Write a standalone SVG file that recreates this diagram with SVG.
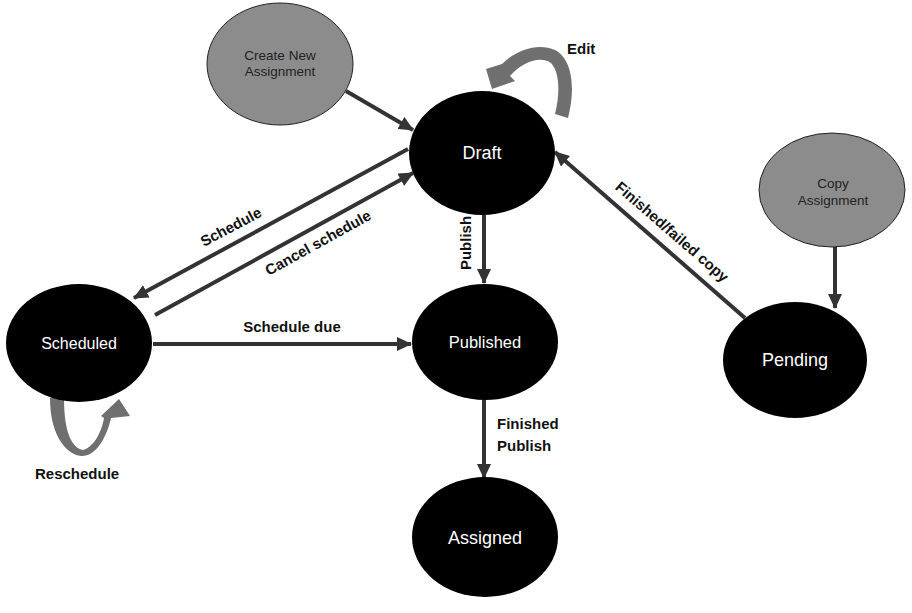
<svg xmlns="http://www.w3.org/2000/svg" width="912" height="613" viewBox="0 0 912 613">
<defs>
<marker id="ah" markerUnits="userSpaceOnUse" markerWidth="16" markerHeight="14" refX="14" refY="7" orient="auto">
<path d="M0,0 L15,7 L0,14 Z" fill="#333"/>
</marker>
<style>
.st{fill:#000;}
.src{fill:#8c8c8c;stroke:#222;stroke-width:1;}
.nt{font-family:"Liberation Sans",Arial,sans-serif;fill:#fff;text-anchor:middle;}
.st2{font-family:"Liberation Sans",Arial,sans-serif;fill:#222;text-anchor:middle;font-size:13.5px;}
.lbl{font-family:"Liberation Sans",Arial,sans-serif;font-weight:bold;font-size:15px;fill:#111;}
.c{stroke:#333;stroke-width:4;fill:none;marker-end:url(#ah);}
.cn{stroke:#333;stroke-width:4;fill:none;}
.loop{fill:#6f6f6f;}
</style>
</defs>
<rect width="912" height="613" fill="#fff"/>
<g id="connectors">
<line class="c" x1="346" y1="91" x2="413" y2="130"/>
<line class="c" x1="408" y1="149" x2="134" y2="298"/>
<line class="c" x1="155" y1="315" x2="413" y2="173"/>
<line class="c" x1="153" y1="344" x2="411" y2="344"/>
<line class="c" x1="484" y1="215" x2="484" y2="283"/>
<line class="c" x1="484" y1="400" x2="484" y2="478"/>
<line class="c" x1="835" y1="247" x2="835" y2="308"/>
<line class="c" x1="745" y1="318" x2="555" y2="152"/>
<path class="loop" d="M568,118 C575,92 574,60 555,50 C540,43 518,48 502,64 L486,69 L492,89 L515,81 L510,76 C522,62 540,55 551,63 C560,72 560,95 555,114 Z"/>
<path class="loop" d="M50,398 C50,440 70,456 82,456 C95,456 106,440 111,418 L130,416 L119,399 L101,416 L104,418 C101,435 92,448 83,450 C73,448 64,435 64,398 Z"/>
</g>
<g id="labels">
<text class="lbl" text-anchor="middle" transform="translate(231,227) rotate(-28)" y="5">Schedule</text>
<text class="lbl" text-anchor="middle" transform="translate(318,243) rotate(-29)" y="5">Cancel schedule</text>
<text class="lbl" text-anchor="middle" x="292" y="332">Schedule due</text>
<text class="lbl" text-anchor="middle" transform="translate(466,243) rotate(-90)" y="5">Publish</text>
<text class="lbl" x="497" y="429">Finished</text>
<text class="lbl" x="497" y="451">Publish</text>
<text class="lbl" x="567" y="54">Edit</text>
<text class="lbl" x="35" y="479">Reschedule</text>
<text class="lbl" text-anchor="middle" transform="translate(672,232) rotate(41)" y="5">Finished/failed copy</text>
</g>
<g id="create-new">
<ellipse class="src" cx="280" cy="64" rx="73" ry="61"/>
<text class="st2" x="280" y="60">Create New</text>
<text class="st2" x="280" y="76">Assignment</text>
</g>
<g id="draft">
<ellipse class="st" cx="482" cy="153" rx="73" ry="62"/>
<text class="nt" x="482" y="159" font-size="18">Draft</text>
</g>
<g id="scheduled">
<ellipse class="st" cx="79" cy="343" rx="73" ry="59"/>
<text class="nt" x="79" y="349" font-size="16">Scheduled</text>
</g>
<g id="published">
<ellipse class="st" cx="485" cy="342" rx="73" ry="58"/>
<text class="nt" x="485" y="348" font-size="16.5">Published</text>
</g>
<g id="assigned">
<ellipse class="st" cx="485" cy="537" rx="73" ry="60"/>
<text class="nt" x="485" y="544" font-size="18">Assigned</text>
</g>
<g id="pending">
<ellipse class="st" cx="795" cy="360" rx="72" ry="58"/>
<text class="nt" x="795" y="366" font-size="18">Pending</text>
</g>
<g id="copy-assignment">
<ellipse class="src" cx="832" cy="190" rx="73" ry="57"/>
<text class="st2" x="833" y="188">Copy</text>
<text class="st2" x="833" y="205">Assignment</text>
</g>
</svg>
